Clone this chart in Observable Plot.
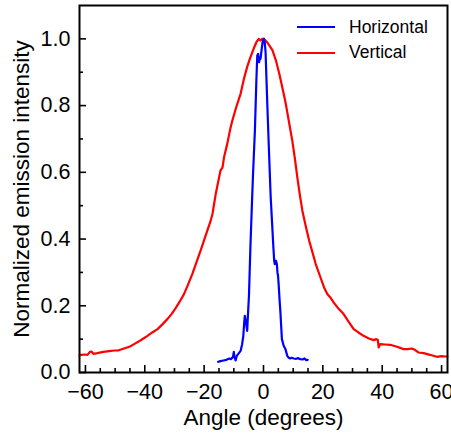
<!DOCTYPE html>
<html>
<head>
<meta charset="utf-8">
<script src="https://cdn.jsdelivr.net/npm/d3@7"></script>
<script src="https://cdn.jsdelivr.net/npm/@observablehq/plot@0.6"></script>
<style>
  html, body { margin: 0; padding: 0; background: #fff; }
  #wrap { position: relative; width: 451px; height: 436px; font-family: "Liberation Sans", Arial, sans-serif; }
  #legend { position: absolute; left: 297px; top: 14.6px; font-size: 17.5px; color: #000; }
  .row { display: flex; align-items: center; height: 25.4px; }
  .sw { width: 38px; height: 2px; margin-right: 14px; }
</style>
</head>
<body>
<div id="wrap"></div>
<script>
// Vertical series (red)
const vAngle = [-62,-61.5,-60,-59.3,-58.5,-58,-57.3,-56,-54,-52,-50.3,-49,-47,-45,-43.6,-41.5,-39.1,-37.5,-35.7,-34,-32.4,-31,-29.6,-28.2,-26.8,-25.5,-24,-22.6,-21.2,-19.5,-17.8,-17.2,-16.1,-15.3,-14.5,-13.8,-13.3,-12.2,-11.2,-10.5,-9.2,-7.7,-6.6,-5.5,-4.4,-3.3,-2.4,-1.6,-1,-0.5,0.2,1.2,2,3,4.2,5.3,6.4,7.5,8.6,9.7,10.6,11.4,12.2,13.1,14.2,15.4,16.5,17.6,19,20.4,21.5,22.5,23.8,25.4,27,28.6,30.4,32,33.7,35.5,37.1,38,38.5,38.8,39.3,41,42.7,45,47.2,48.5,50,51,52.2,54,56.1,58.4,60,61.2,62];
const vValue = [0.052,0.053,0.054,0.053,0.062,0.063,0.056,0.058,0.062,0.064,0.066,0.066,0.072,0.078,0.085,0.096,0.11,0.12,0.13,0.145,0.16,0.175,0.193,0.213,0.235,0.262,0.295,0.33,0.365,0.41,0.455,0.475,0.535,0.57,0.605,0.615,0.645,0.686,0.73,0.755,0.795,0.836,0.88,0.916,0.945,0.971,0.99,1.0,0.995,1.0,1.0,0.99,0.98,0.966,0.935,0.896,0.852,0.806,0.75,0.695,0.64,0.585,0.535,0.485,0.44,0.395,0.36,0.325,0.29,0.255,0.235,0.225,0.208,0.19,0.175,0.153,0.13,0.12,0.11,0.102,0.097,0.1,0.098,0.075,0.085,0.084,0.083,0.077,0.07,0.07,0.072,0.068,0.06,0.058,0.053,0.047,0.049,0.048,0.048];

// Horizontal series (blue)
const hAngle = [-15.3,-14.5,-13.5,-12.5,-11.5,-11,-10.3,-10,-9.8,-9.4,-9,-8.3,-7.7,-7.2,-6.8,-6.5,-6.3,-5.9,-5.5,-5.2,-4.9,-4.4,-3.8,-3.5,-2.9,-2.4,-2.1,-1.8,-1.5,-1.2,-1,-0.6,-0.3,0.1,0.4,0.7,1.2,1.8,2.4,3,3.3,3.6,3.8,4.2,4.5,4.7,4.9,5.1,5.4,5.7,6.2,6.8,7.4,8,8.4,9,9.5,10.2,11,11.5,12.4,13.2,13.8,14.4,14.9];
const hValue = [0.032,0.034,0.036,0.038,0.042,0.04,0.046,0.062,0.048,0.036,0.05,0.058,0.065,0.085,0.11,0.15,0.17,0.15,0.125,0.18,0.23,0.38,0.53,0.6,0.725,0.876,0.95,0.955,0.93,0.945,0.94,0.97,0.99,1.0,0.99,0.96,0.825,0.675,0.53,0.43,0.38,0.335,0.325,0.335,0.325,0.3,0.29,0.265,0.22,0.18,0.1,0.08,0.07,0.05,0.045,0.042,0.044,0.042,0.041,0.043,0.04,0.039,0.042,0.037,0.038];

const seriesNames = ["Horizontal", "Vertical"];
const seriesColors = ["#0000ff", "#ff0000"];

const xMajor = [-60, -40, -20, 0, 20, 40, 60];
const xMinor = [-55, -50, -45, -35, -30, -25, -15, -10, -5, 5, 10, 15, 25, 30, 35, 45, 50, 55];
const yMajor = [0, 0.2, 0.4, 0.6, 0.8, 1.0];
const yMinor = [0.1, 0.3, 0.5, 0.7, 0.9];

const vertical = vAngle.map((a, i) => ({angle: a, value: vValue[i]}));
const horizontal = hAngle.map((a, i) => ({angle: a, value: hValue[i]}));

const fmtX = d => d < 0 ? "\u2212" + (-d) : String(d);
const fmtY = d => d.toFixed(1);

const chart = Plot.plot({
  width: 451,
  height: 436,
  marginLeft: 79,
  marginRight: 4,
  marginTop: 5,
  marginBottom: 64,
  style: {fontFamily: "'Liberation Sans', Arial, sans-serif", fontSize: "21.5px", background: "#fff", color: "#000", overflow: "visible"},
  x: {domain: [-62, 62]},
  y: {domain: [0, 1.1]},
  marks: [
    Plot.line(vertical, {x: "angle", y: "value", stroke: seriesColors[1], strokeWidth: 2.2}),
    Plot.line(horizontal, {x: "angle", y: "value", stroke: seriesColors[0], strokeWidth: 2.2}),
    Plot.axisX({ticks: xMajor, tickSize: -7, tickPadding: 18, tickFormat: fmtX, strokeWidth: 1.6,
      label: "Angle (degrees)", labelAnchor: "center", labelArrow: "none", labelOffset: 52}),
    Plot.axisX({ticks: xMinor, tickSize: -4, tickFormat: () => "", strokeWidth: 1.6, label: null}),
    Plot.axisY({ticks: yMajor, tickSize: -7, tickPadding: 16, tickFormat: fmtY, strokeWidth: 1.6,
      label: "Normalized emission intensity", labelAnchor: "center", labelArrow: "none", labelOffset: 66}),
    Plot.axisY({ticks: yMinor, tickSize: -4, tickFormat: () => "", strokeWidth: 1.6, label: null}),
    Plot.frame({stroke: "#000", strokeWidth: 2})
  ]
});

// slightly larger axis titles
chart.querySelectorAll('g[aria-label="x-axis label"], g[aria-label="y-axis label"]').forEach(g => {
  g.setAttribute("font-size", "22.5");
  g.style.fontSize = "22.5px";
});

const wrap = document.getElementById("wrap");
wrap.appendChild(chart);

const legend = document.createElement("div");
legend.id = "legend";
seriesNames.forEach((name, i) => {
  const row = document.createElement("div");
  row.className = "row";
  const sw = document.createElement("span");
  sw.className = "sw";
  sw.style.background = seriesColors[i];
  const tx = document.createElement("span");
  tx.textContent = name;
  row.appendChild(sw);
  row.appendChild(tx);
  legend.appendChild(row);
});
wrap.appendChild(legend);
</script>
</body>
</html>
